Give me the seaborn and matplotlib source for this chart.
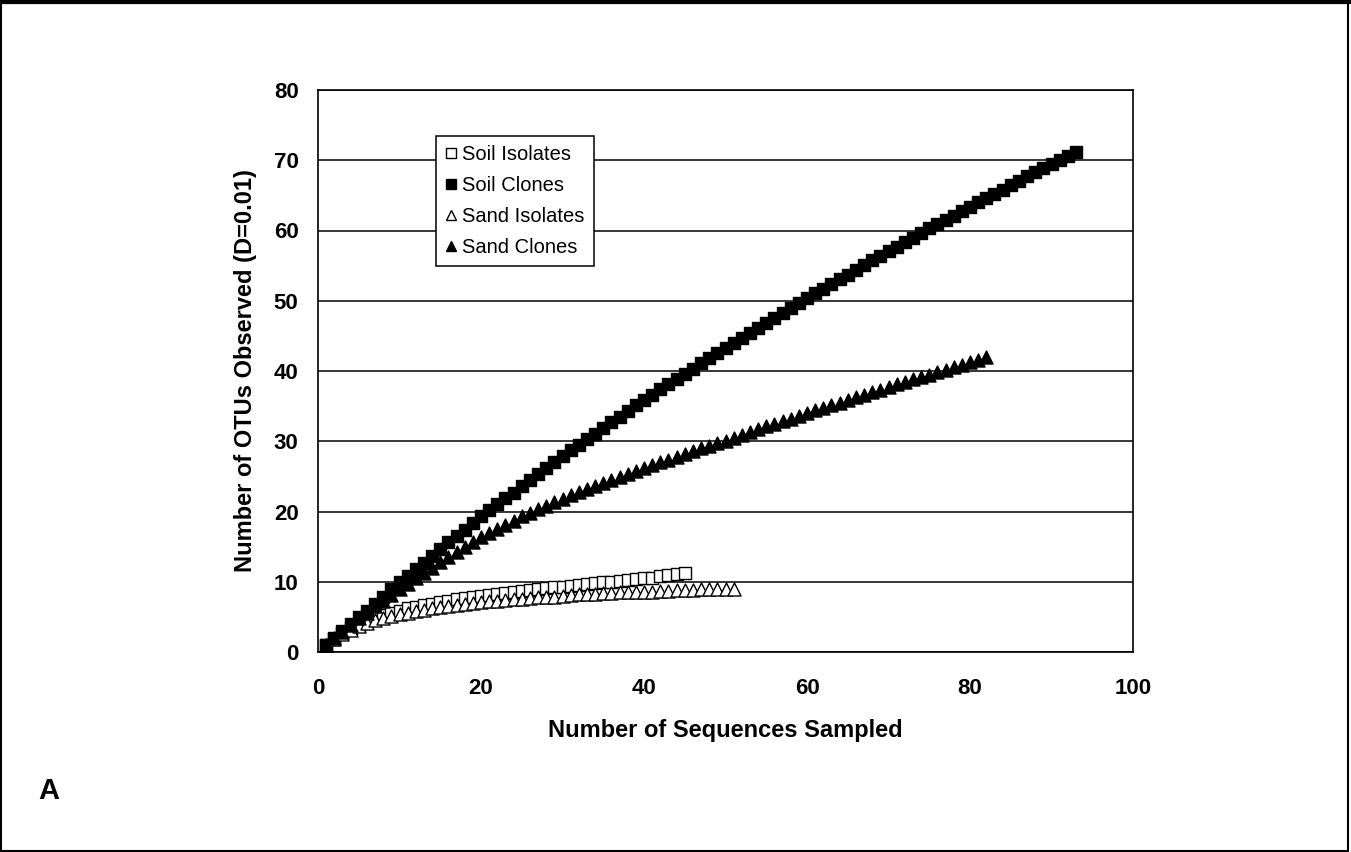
import numpy as np
import pandas as pd
import matplotlib
matplotlib.use("Agg")
import matplotlib.pyplot as plt
import seaborn as sns
from matplotlib.lines import Line2D
from matplotlib.patches import Rectangle

# values, one per sequence sampled
soil_isolates = [1.0, 1.9, 2.7, 3.4, 3.9, 4.4, 4.9, 5.2, 5.6, 5.9,
                 6.2, 6.4, 6.7, 6.9, 7.1, 7.3, 7.5, 7.7, 7.8, 8.0,
                 8.1, 8.3, 8.4, 8.6, 8.7, 8.8, 8.9, 9.1, 9.2, 9.3,
                 9.4, 9.5, 9.7, 9.8, 9.9, 10.0, 10.1, 10.3, 10.4, 10.5,
                 10.6, 10.8, 10.9, 11.1, 11.2]

soil_clones = [1.0, 2.0, 3.0, 4.0, 5.0, 5.9, 6.9, 7.9, 8.9, 9.9,
               10.8, 11.8, 12.7, 13.7, 14.6, 15.6, 16.5, 17.4, 18.4, 19.3,
               20.2, 21.0, 21.9, 22.7, 23.6, 24.5, 25.3, 26.2, 27.0, 27.9,
               28.7, 29.5, 30.3, 31.1, 31.9, 32.7, 33.5, 34.3, 35.1, 35.9,
               36.6, 37.4, 38.1, 38.9, 39.6, 40.3, 41.1, 41.8, 42.6, 43.3,
               44.0, 44.7, 45.4, 46.1, 46.9, 47.6, 48.3, 49.0, 49.7, 50.4,
               51.1, 51.7, 52.4, 53.1, 53.7, 54.4, 55.1, 55.8, 56.4, 57.1,
               57.7, 58.4, 59.0, 59.6, 60.3, 60.9, 61.5, 62.1, 62.8, 63.4,
               64.0, 64.6, 65.2, 65.8, 66.5, 67.1, 67.7, 68.3, 68.9, 69.5,
               70.1, 70.6, 71.2]

sand_isolates = [1.0, 1.9, 2.6, 3.2, 3.7, 4.1, 4.5, 4.8, 5.1, 5.4,
                 5.6, 5.8, 6.0, 6.2, 6.4, 6.5, 6.7, 6.8, 7.0, 7.1,
                 7.2, 7.3, 7.4, 7.5, 7.6, 7.7, 7.8, 7.8, 7.9, 8.0,
                 8.1, 8.2, 8.2, 8.3, 8.4, 8.4, 8.5, 8.5, 8.6, 8.6,
                 8.6, 8.7, 8.7, 8.8, 8.8, 8.8, 8.9, 8.9, 8.9, 9.0, 9.0]

sand_clones = [1.0, 2.0, 2.9, 3.9, 4.8, 5.6, 6.5, 7.3, 8.1, 8.9,
               9.7, 10.5, 11.3, 12.0, 12.8, 13.5, 14.2, 14.9, 15.6, 16.3,
               16.9, 17.5, 18.1, 18.7, 19.3, 19.8, 20.3, 20.8, 21.3, 21.8,
               22.3, 22.8, 23.2, 23.7, 24.1, 24.5, 24.9, 25.4, 25.8, 26.2,
               26.6, 27.0, 27.4, 27.8, 28.2, 28.6, 29.0, 29.3, 29.7, 30.1,
               30.5, 30.9, 31.3, 31.7, 32.1, 32.5, 32.9, 33.2, 33.6, 34.0,
               34.4, 34.8, 35.1, 35.5, 35.9, 36.3, 36.6, 37.0, 37.3, 37.7,
               38.1, 38.4, 38.8, 39.1, 39.5, 39.9, 40.2, 40.6, 40.9, 41.3,
               41.6, 42.0]

series_names = ['Soil Isolates', 'Soil Clones', 'Sand Isolates', 'Sand Clones']
series_vals = [soil_isolates, soil_clones, sand_isolates, sand_clones]
x_ticks = [0, 20, 40, 60, 80, 100]
y_ticks = [0, 10, 20, 30, 40, 50, 60, 70, 80]

# marker style for each series
markers = {'Soil Isolates': 's', 'Soil Clones': 's',
           'Sand Isolates': '^', 'Sand Clones': '^'}
faces = {'Soil Isolates': 'white', 'Soil Clones': 'black',
         'Sand Isolates': 'white', 'Sand Clones': 'black'}
sizes = {'Soil Isolates': 72, 'Soil Clones': 72,
         'Sand Isolates': 88, 'Sand Clones': 88}

sns.set_theme(style='white')
plt.rcParams['font.family'] = ['Liberation Sans', 'DejaVu Sans']
plt.rcParams['text.color'] = 'black'
plt.rcParams['axes.labelcolor'] = 'black'
plt.rcParams['xtick.color'] = 'black'
plt.rcParams['ytick.color'] = 'black'

fig = plt.figure(figsize=(13.51, 8.52), dpi=100)
ax = fig.add_axes([318 / 1351, 1 - 652 / 852, 815 / 1351, 562 / 852])

for name, vals in zip(series_names, series_vals):
    df = pd.DataFrame({'n': np.arange(1, len(vals) + 1), 'otus': vals})
    sns.scatterplot(data=df, x='n', y='otus', marker=markers[name],
                    s=sizes[name], color=faces[name], edgecolor='black',
                    linewidth=1.0, ax=ax, zorder=3)

ax.set_xlim(0, 100)
ax.set_ylim(0, 80)
ax.set_xticks(x_ticks)
ax.set_yticks(y_ticks)
ax.yaxis.grid(True, color='black', linewidth=1.1)
ax.xaxis.grid(False)
ax.set_axisbelow(True)
for sp in ax.spines.values():
    sp.set_color('black')
    sp.set_linewidth(1.2)
    sp.set_visible(True)
ax.tick_params(axis='both', direction='out', length=6, width=1.2,
               color='black', labelcolor='black', labelsize=16, pad=8)
ax.tick_params(axis='x', pad=13)
for lab in ax.get_xticklabels() + ax.get_yticklabels():
    lab.set_fontweight('bold')

ax.set_xlabel('Number of Sequences Sampled', fontsize=17, fontweight='bold',
              labelpad=14, color='black')
ax.set_ylabel('Number of OTUs Observed (D=0.01)', fontsize=17,
              fontweight='bold', labelpad=12, color='black')

handles = [Line2D([], [], linestyle='none', marker=markers[n],
                  markerfacecolor=faces[n], markeredgecolor='black',
                  markersize=7.5, markeredgewidth=1.0) for n in series_names]
leg = ax.legend(handles, series_names, loc='upper left',
                bbox_to_anchor=(0.145, 0.918), borderaxespad=0,
                fontsize=14.5, frameon=True, fancybox=False, framealpha=1,
                edgecolor='black', handlelength=0.6, handletextpad=0.25,
                labelspacing=0.6, borderpad=0.45)
leg.get_frame().set_linewidth(1.1)
for t in leg.get_texts():
    t.set_color('black')

fig.text(38 / 1351, 1 - 791 / 852, 'A', fontsize=21, fontweight='bold',
         va='center', ha='left', color='black')

# outer frame around the whole panel
fig.patches.append(Rectangle((0.001, 0.001), 0.997, 0.996,
                             transform=fig.transFigure, fill=False,
                             edgecolor='black', linewidth=1.5))
fig.lines.append(Line2D([0, 1], [0.998, 0.998], transform=fig.transFigure,
                        color='black', linewidth=3))

fig.savefig('out.png', dpi=100, facecolor='white')
